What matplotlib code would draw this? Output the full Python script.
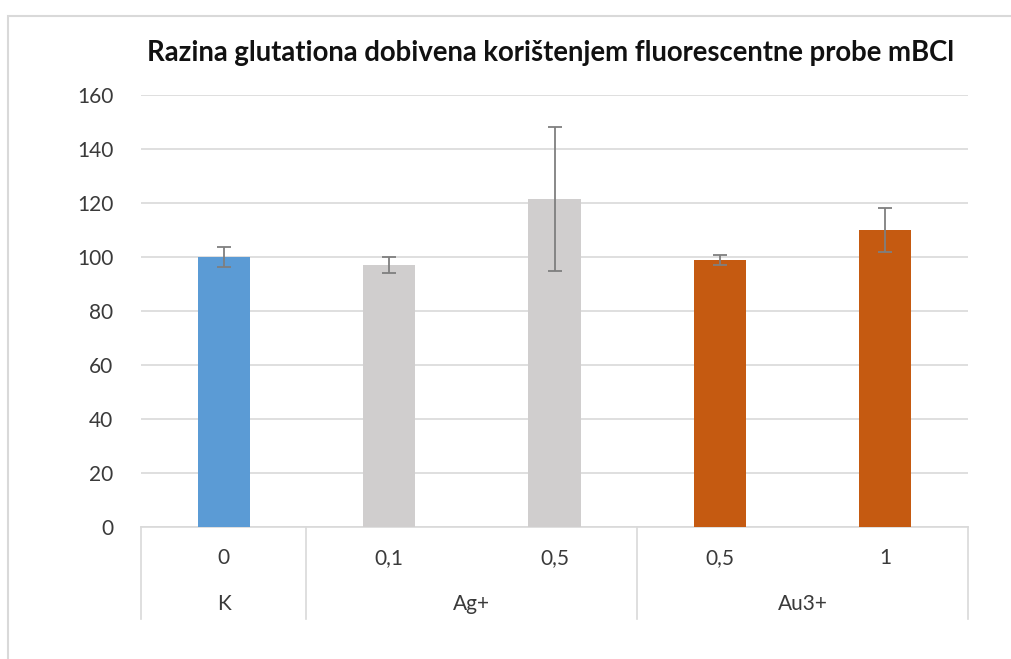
import numpy as np
import matplotlib.pyplot as plt
from matplotlib.patches import Rectangle
import matplotlib.transforms as mtransforms

plt.rcParams['font.family'] = ['Lato', 'DejaVu Sans']

# data
conc = ['0', '0,1', '0,5', '0,5', '1']
groups = ['K', 'Ag+', 'Au3+']
group_sizes = [1, 2, 2]
values = [100, 97, 121.4, 98.9, 110]
errors = [3.7, 3.0, 26.7, 2.0, 8.3]
colors = ['#5B9BD5', '#D0CECE', '#D0CECE', '#C55A11', '#C55A11']

fig = plt.figure(figsize=(10.11, 6.59), dpi=100)
ax = fig.add_axes([141/1011, 1-527/659, (968-141)/1011, (527-95)/659])

x = np.arange(len(values))
ax.bar(x, values, width=0.315, color=colors, zorder=3)
ax.errorbar(x, values, yerr=errors, fmt='none', ecolor='#7F7F7F', elinewidth=1.3,
            capsize=5, capthick=1.3, zorder=4)

ax.set_xlim(-0.5, len(values)-0.5)
ax.set_ylim(0, 160)
ax.set_yticks(np.arange(0, 161, 20))
ax.yaxis.grid(True, color='#D9D9D9', lw=1.2, zorder=0)
for s in ['top', 'right', 'left']:
    ax.spines[s].set_visible(False)
ax.spines['bottom'].set_color('#D9D9D9')
ax.spines['bottom'].set_linewidth(1.2)
ax.tick_params(axis='y', length=0, pad=20, labelsize=15, labelcolor='#3A3A3A')
ax.set_xticks([])

# two-level category axis
trans = mtransforms.blended_transform_factory(ax.transData, ax.transAxes)
depth = -(619-527)/432
bounds = np.concatenate([[0], np.cumsum(group_sizes)]) - 0.5
for b in bounds:
    ax.plot([b, b], [0, depth], color='#D9D9D9', lw=1.2, transform=trans, clip_on=False)
for xi, lab in zip(x, conc):
    ax.text(xi, -(558-527)/432, lab, transform=trans, ha='center', va='center',
            fontsize=15, color='#3A3A3A')
for i, g in enumerate(groups):
    mid = (bounds[i] + bounds[i+1]) / 2
    ax.text(mid, -(604-527)/432, g, transform=trans, ha='center', va='center',
            fontsize=15, color='#3A3A3A')

fig.text(551/1011, 1-53/659, 'Razina glutationa dobivena korištenjem fluorescentne probe mBCl',
         ha='center', va='center', fontsize=19.8, fontweight='bold', color='#111111')

fig.patches.append(Rectangle((8/1011, -0.1), 1.2, 1-16/659+0.1, transform=fig.transFigure,
                             fill=False, edgecolor='#D9D9D9', lw=1.5))

fig.savefig('out.png', dpi=100)
